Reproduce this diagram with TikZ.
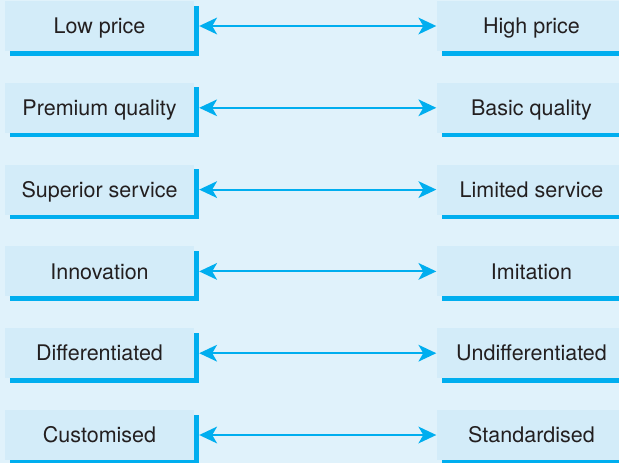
\documentclass[tikz,border=0pt]{standalone}
\usepackage{fontspec}
\setmainfont{TeX Gyre Heros}
\usetikzlibrary{shadows}
\definecolor{bgc}{RGB}{224,242,251}
\definecolor{boxc}{RGB}{211,236,249}
\definecolor{cyanc}{RGB}{0,174,239}
\definecolor{txt}{RGB}{35,31,32}
\tikzset{
  pbox/.style={fill=boxc, text=txt, minimum width=189pt, minimum height=50pt,
    inner sep=0pt, text height=15.4pt, text depth=0pt,
    font=\fontsize{21.5}{26}\selectfont,
    general shadow={fill=cyanc, shadow xshift=5pt, shadow yshift=-4.5pt}},
  link/.style={cyanc, line width=2pt},
  head/.style={fill=cyanc}
}
\begin{document}
\begin{tikzpicture}[x=1pt,y=-1pt]
  \fill[bgc] (0,0) rectangle (619,463);
  \clip (0,0) rectangle (619,463);
  \foreach \i/\a/\b in {0/Low price/High price,
                        1/Premium quality/Basic quality,
                        2/Superior service/Limited service,
                        3/Innovation/Imitation,
                        4/Differentiated/Undifferentiated,
                        5/Customised/Standardised}{
    \node[pbox] (L\i) at (99.5, 26+81.8*\i) {\a};
    \node[pbox] (R\i) at (531.5, 26+81.8*\i) {\b};
    \coordinate (A\i) at ([xshift=5pt]L\i.east);
    \coordinate (B\i) at ([xshift=-0.5pt]R\i.west);
    \draw[link] ([xshift=10pt]A\i) -- ([xshift=-10pt]B\i);
    \fill[head] (A\i) -- ++(18,-8.5) -- ++(-5,8.5) -- ++(5,8.5) -- cycle;
    \fill[head] (B\i) -- ++(-18,-8.5) -- ++(5,8.5) -- ++(-5,8.5) -- cycle;
  }
\end{tikzpicture}
\end{document}
